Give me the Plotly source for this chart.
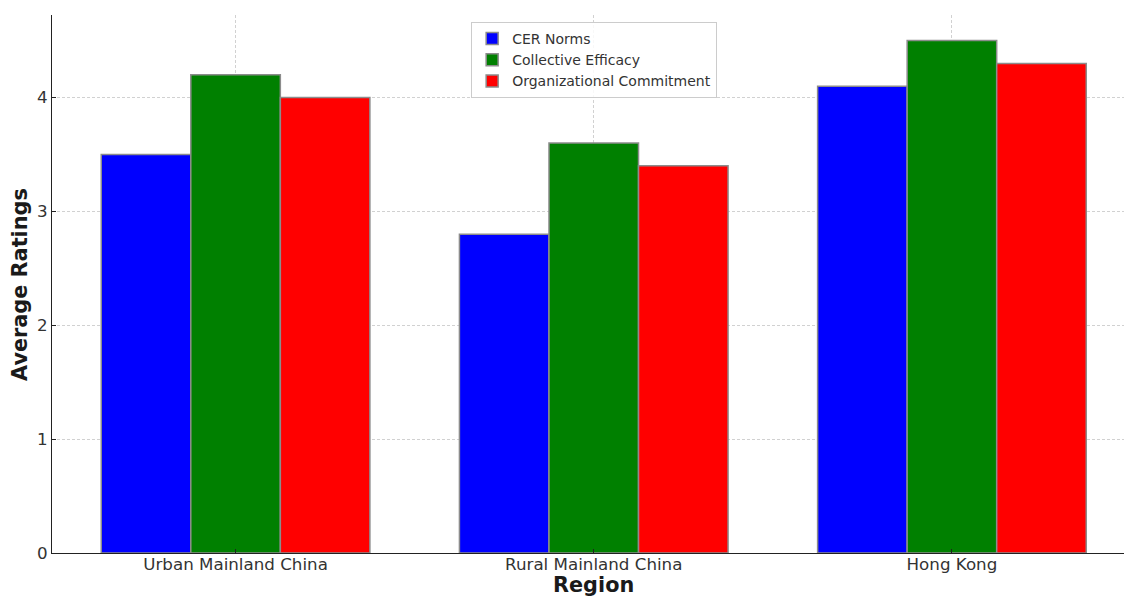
import plotly.graph_objects as go

regions = ["Urban Mainland China", "Rural Mainland China", "Hong Kong"]
cer_norms = [3.5, 2.8, 4.1]
collective_efficacy = [4.2, 3.6, 4.5]
org_commitment = [4.0, 3.4, 4.3]

series = [
    ("CER Norms", cer_norms, "#0000ff"),
    ("Collective Efficacy", collective_efficacy, "#008000"),
    ("Organizational Commitment", org_commitment, "#ff0000"),
]

font_family = "DejaVu Sans"
text_color = "#333333"
title_color = "#1a1a1a"

fig = go.Figure()
for name, values, color in series:
    fig.add_trace(go.Bar(
        x=regions, y=values, name=name,
        marker=dict(color=color, line=dict(color="#8c8c8c", width=1.5)),
    ))

grid_color = "rgba(190,190,190,0.7)"

fig.update_layout(
    width=1124, height=598,
    margin=dict(l=52, r=0, t=15, b=45),
    paper_bgcolor="white", plot_bgcolor="white",
    barmode="group", bargap=0.25, bargroupgap=0,
    font=dict(family=font_family, color=text_color, size=16.7),
    showlegend=True,
    legend=dict(
        x=0.391, y=0.987, xanchor="left", yanchor="top",
        bgcolor="rgba(255,255,255,0.85)", bordercolor="#cccccc", borderwidth=1,
        font=dict(size=14, family=font_family, color=text_color),
        itemwidth=30, tracegroupgap=0,
    ),
    xaxis=dict(
        range=[-0.5125, 2.4804],
        automargin=False,
        showline=True, linecolor="#222222", linewidth=1.2,
        ticks="inside", ticklen=4, tickcolor="#222222",
        ticklabelstandoff=-4,
        showgrid=True, gridcolor=grid_color, griddash="3px,2px", gridwidth=0.9,
        tickfont=dict(size=16.7, color=text_color),
        layer="above traces",
        zeroline=False,
    ),
    yaxis=dict(
        range=[0, 4.725],
        automargin=False,
        tickvals=[0, 1, 2, 3, 4],
        showline=True, linecolor="#222222", linewidth=1.2,
        ticks="inside", ticklen=4, tickcolor="#222222",
        showgrid=True, gridcolor=grid_color, griddash="3px,2px", gridwidth=0.9,
        tickfont=dict(size=16.7, color=text_color),
        layer="above traces",
        zeroline=False,
    ),
)

# Axis titles placed as annotations for precise positioning
fig.add_annotation(
    text="<b>Region</b>", xref="x", x=1.0, yref="paper", y=-0.0836,
    xanchor="center", yanchor="bottom", showarrow=False, borderpad=0,
    font=dict(size=20.8, color=title_color, family=font_family),
)
fig.add_annotation(
    text="<b>Average Ratings</b>", xref="paper", x=-0.0299, yref="paper", y=0.5,
    xanchor="center", yanchor="middle", textangle=-90, showarrow=False,
    font=dict(size=20.8, color=title_color, family=font_family),
)

fig.write_html("out.html")
